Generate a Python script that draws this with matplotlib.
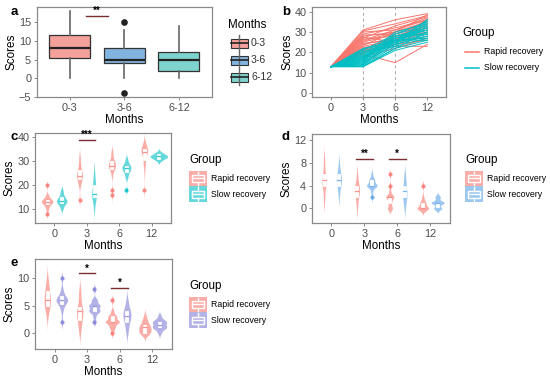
import numpy as np
import matplotlib
matplotlib.use("Agg")
import matplotlib.pyplot as plt
from matplotlib.patches import Rectangle
from matplotlib.lines import Line2D

plt.rcParams["font.family"] = ["Liberation Sans", "DejaVu Sans"]

W, H = 550, 380
TXT = "#4d4d4d"
BORDER = "#8a8a8a"
SIGC = "#7a3030"

# ---------------- panel a : box stats per months group
a_groups = ["0-3", "3-6", "6-12"]
a_lo = [0, 0, 0]
a_q1 = [5.5, 4, 2]
a_med = [8, 5, 5]
a_q3 = [11.5, 8, 7]
a_hi = [18, 13, 14]
a_fliers = [[], [15, -4], []]
a_colors = ["#f4a19c", "#82b4e0", "#7fd3ce"]

# ---------------- panel b : each row = one subject, scores at 0,3,6,12 months
b_months = ["0", "3", "6", "12"]
b_rapid = [
    [13, 31, 36, 39], [13, 30.5, 34, 38], [13, 30, 31, 37], [13, 29, 32, 36],
    [13, 28, 30, 35], [13, 27, 33, 37.5], [13, 26.5, 28, 33], [13, 26, 31, 36],
    [13, 25, 29, 34], [13, 24, 27, 30], [13, 23.5, 30, 35], [13, 23, 26, 31],
    [13, 22, 25, 29], [13, 21.5, 28, 33], [13, 21, 24, 28], [13, 20, 23, 23],
    [13, 19.5, 27, 32], [13, 19, 15, 24], [13, 18, 22, 27], [13, 28.5, 29, 34],
    [13, 27.5, 25, 30], [13, 25.5, 30, 38.5], [13, 24.5, 26, 36.5], [13, 22.5, 24, 26],
    [13, 20.5, 28, 32],
]
b_slow = [
    [13, 13, 21, 25], [13, 13.5, 22, 26], [13, 14, 23, 27], [13, 14.5, 24, 28],
    [13, 15, 25, 29], [13, 15.5, 26, 30], [13, 16, 27, 31], [13, 16.5, 28, 32],
    [13, 17, 29, 33], [13, 17.5, 30, 34], [13, 18, 24, 35], [13, 18.5, 25, 36],
    [13, 19, 26, 27], [13, 19.5, 27, 29], [13, 20, 28, 31], [13, 20.5, 23, 33],
    [13, 21, 29, 35], [13, 21.5, 26, 26], [13, 22, 25, 28], [13, 13, 22, 30],
    [13, 14, 27, 32], [13, 15, 24, 34], [13, 16, 28, 29], [13, 17, 26, 31],
    [13, 18, 25, 36],
]

# ---------------- panels c, d, e : scores per time point (0, 3, 6, 12 months)
c_rapid = [
    [8, 10, 11, 12, 12, 13, 13, 13, 13, 14, 14, 14, 15, 16, 20],
    [14, 20, 21, 22, 23, 23, 24, 24, 25, 25, 26, 27, 28, 30, 32],
    [16, 18, 24, 26, 27, 27, 28, 28, 28, 29, 29, 30, 30, 31, 33, 34],
    [18, 25, 28, 29, 30, 31, 33, 33, 34, 34, 34, 34, 35, 35, 35, 36, 36, 37, 38],
]
c_slow = [
    [10, 11, 12, 12, 13, 13, 13, 13, 14, 14, 14, 15, 15, 16, 17, 18],
    [10, 12, 14, 15, 15, 16, 16, 16, 17, 18, 19, 20, 21, 22, 24, 26],
    [18, 23, 24, 25, 26, 26, 27, 27, 27, 28, 28, 28, 29, 30, 31],
    [30, 31, 31, 31, 32, 32, 32, 32, 32, 33, 33, 33, 34],
]
d_rapid = [
    [1, 2, 3, 4, 4, 4, 5, 5, 5, 6, 6, 7, 8, 9],
    [0, 1, 2, 2, 3, 3, 3, 3, 4, 4, 4, 5, 6],
    [0, 0, 0, 1, 1, 2, 2, 2, 2, 2, 3, 4, 6],
    [0, 0, 0, 0, 0, 0, 1, 1, 1, 2, 4],
]
d_slow = [
    [2, 3, 4, 4, 4, 5, 5, 5, 5, 6, 6, 6, 7, 8],
    [2, 3, 4, 4, 4, 4, 4, 4, 5, 5, 5, 6],
    [0, 1, 2, 2, 2, 3, 3, 4, 4, 5, 6],
    [0, 0, 0, 1, 1, 1, 1, 1, 2, 2],
]
e_rapid = [
    [3, 4, 5, 5, 5, 6, 6, 6, 7, 7, 8, 8, 9, 10],
    [0, 1, 2, 2, 3, 3, 4, 4, 4, 4, 5, 6, 7, 8],
    [0, 1, 1, 2, 2, 2, 2, 2, 3, 3, 3, 4, 6],
    [0, 0, 0, 0, 1, 1, 1, 1, 2, 2, 3],
]
e_slow = [
    [2, 4, 5, 5, 6, 6, 6, 6, 6, 6, 7, 7, 8, 10],
    [2, 3, 4, 4, 4, 4, 5, 5, 5, 5, 6, 6, 8],
    [0, 1, 2, 2, 3, 3, 3, 4, 4, 4, 5, 6],
    [0, 1, 1, 1, 1, 2, 2, 2, 2, 3],
]
groups = ["Rapid recovery", "Slow recovery"]
red = "#f8766d"
teal = "#00bfc4"
blue = "#5aa2e6"
purple = "#7f7fd6"


fig = plt.figure(figsize=(W / 100, H / 100), dpi=100)


def add_ax(x0, y0, x1, y1):
    ax = fig.add_axes([x0 / W, 1 - y1 / H, (x1 - x0) / W, (y1 - y0) / H])
    for s in ax.spines.values():
        s.set_color(BORDER)
        s.set_linewidth(0.9)
    ax.tick_params(colors=BORDER, labelcolor=TXT, labelsize=7.8, length=2.5, width=0.7, pad=1.5)
    ax.set_xlabel("Months", fontsize=8.4, labelpad=1)
    ax.set_ylabel("Scores", fontsize=8.4, labelpad=1)
    return ax


def ftext(x, y, s, **kw):
    fig.text(x / W, 1 - y / H, s, va="center", **kw)


def frect(x, y, w, h, **kw):
    fig.add_artist(Rectangle((x / W, 1 - (y + h) / H), w / W, h / H, transform=fig.transFigure, **kw))


def fline(xs, ys, **kw):
    fig.add_artist(Line2D([x / W for x in xs], [1 - y / H for y in ys], transform=fig.transFigure, **kw))


def sig(ax, x0, x1, y, label):
    ax.plot([x0, x1], [y, y], color=SIGC, lw=1.0)
    ax.text((x0 + x1) / 2, y, label, ha="center", va="bottom", fontsize=7, fontweight="bold")


def bandwidth(vals):
    v = np.asarray(vals, float)
    iqr = np.subtract(*np.percentile(v, [75, 25]))
    lo = min(v.std(ddof=1), iqr / 1.34) or v.std(ddof=1)
    return 0.9 * lo * len(v) ** -0.2


def kde(vals, grid):
    v = np.asarray(vals, float)
    bw = bandwidth(v)
    d = np.exp(-0.5 * ((grid[:, None] - v[None, :]) / bw) ** 2).sum(1)
    return d / (len(v) * bw * np.sqrt(2 * np.pi))


def violins(ax, sets, maxw=0.5, boxw=0.09):
    shapes = []
    for data, col, off in sets:
        for i, vals in enumerate(data):
            bw = bandwidth(vals)
            grid = np.linspace(min(vals) - 3 * bw, max(vals) + 3 * bw, 200)
            shapes.append((i + 1 + off, grid, kde(vals, grid), col, vals))
    dmax = max(s[2].max() for s in shapes)
    for x, grid, dens, col, vals in shapes:
        hw = dens / dmax * maxw / 2
        ax.fill_betweenx(grid, x - hw, x + hw, color=col, alpha=0.6, lw=0)
    for x, grid, dens, col, vals in shapes:
        q1, med, q3 = np.percentile(vals, [25, 50, 75])
        iqr = q3 - q1
        ax.add_patch(Rectangle((x - boxw / 2, q1), boxw, max(q3 - q1, 0.05), fc="white", ec="white", lw=0.6))
        ax.plot([x - boxw / 2, x + boxw / 2], [med, med], color=col, lw=0.9, alpha=0.8)
        out = [v for v in vals if v < q1 - 1.5 * iqr or v > q3 + 1.5 * iqr]
        ax.scatter([x] * len(out), out, s=9, color=col, alpha=0.8, lw=0, zorder=3)
    ax.set_xticks(range(1, 5))
    ax.set_xticklabels(b_months)
    ax.set_xlim(0.4, 4.6)


def group_legend(x, y, cols):
    ftext(x, y, "Group", fontsize=8.4)
    for k, (g, col) in enumerate(zip(groups, cols)):
        ky = y + 10.5 + k * 15.8
        frect(x, ky, 17.5, 15.8, fc=col, alpha=0.6, ec="none")
        frect(x + 3, ky + 4.5, 11.5, 6.8, fc="none", ec="white", lw=1.0)
        fline([x + 3, x + 14.5], [ky + 7.9, ky + 7.9], color="white", lw=1.0)
        fline([x + 8.75, x + 8.75], [ky + 1, ky + 4.5], color="white", lw=1.0)
        fline([x + 8.75, x + 8.75], [ky + 11.3, ky + 14.8], color="white", lw=1.0)
        ftext(x + 22, ky + 7.9, g, fontsize=6.3)


# ---------- a
ax = add_ax(36.7, 6.7, 211.7, 97.3)
stats = [dict(whislo=a_lo[i], q1=a_q1[i], med=a_med[i], q3=a_q3[i], whishi=a_hi[i], fliers=a_fliers[i])
         for i in range(3)]
bp = ax.bxp(stats, positions=[1, 2, 3], widths=0.75, patch_artist=True, showcaps=False,
            boxprops=dict(edgecolor="#333333", linewidth=0.9),
            medianprops=dict(color="#222222", linewidth=1.6),
            whiskerprops=dict(color="#666666", linewidth=1.2),
            flierprops=dict(marker="o", markerfacecolor="#222222", markeredgecolor="none", markersize=4.8))
for p, c in zip(bp["boxes"], a_colors):
    p.set_facecolor(c)
ax.set_xlim(0.4, 3.6)
ax.set_ylim(-5.1, 19.2)
ax.set_yticks([-5, 0, 5, 10, 15])
ax.set_xticklabels(a_groups)
sig(ax, 1.3, 1.7, 16.8, "**")

ftext(228, 25, "Months", fontsize=8.4)
for k, g in enumerate(a_groups):
    cy = 43 + k * 17
    fline([239, 239], [cy - 8, cy + 8], color="#666666", lw=1.0)
    frect(230.5, cy - 4.5, 17, 9, fc=a_colors[k], ec="#333333", lw=0.8)
    fline([230.5, 247.5], [cy, cy], color="#222222", lw=1.2)
    ftext(251, cy, g, fontsize=7.6, color="#333333")

# ---------- b
ax = add_ax(312.3, 6.7, 446, 97.3)
for row in b_rapid:
    ax.plot(range(1, 5), row, color=red, lw=0.7)
for row in b_slow:
    ax.plot(range(1, 5), row, color=teal, lw=0.7)
for x in (2, 3):
    ax.axvline(x, color="#aaaaaa", lw=0.7, ls=(0, (3, 3)), zorder=0)
ax.set_xlim(0.42, 4.58)
ax.set_ylim(-2, 42.4)
ax.set_yticks([0, 10, 20, 30, 40])
ax.set_xticks(range(1, 5))
ax.set_xticklabels(b_months)
ftext(462.7, 33, "Group", fontsize=8.4)
for k, (g, c) in enumerate(zip(groups, [red, teal])):
    ky = 52 + k * 16
    fline([465, 478.5], [ky, ky], color=c, lw=1.1)
    ftext(484, ky, g, fontsize=6.3)

# ---------- c
ax = add_ax(35, 133, 171, 223)
violins(ax, [(c_rapid, red, -0.225), (c_slow, teal, 0.225)], maxw=0.55)
ax.set_ylim(4.2, 41.8)
ax.set_yticks([10, 20, 30, 40])
sig(ax, 1.75, 2.25, 38.9, "***")
group_legend(189.3, 160, [red, teal])

# ---------- d
ax = add_ax(311.7, 134, 450, 223.3)
violins(ax, [(d_rapid, red, -0.225), (d_slow, blue, 0.225)], maxw=0.4)
ax.set_ylim(-2.6, 13)
ax.set_yticks([0, 4, 8, 12])
sig(ax, 1.75, 2.25, 8.6, "**")
sig(ax, 2.75, 3.25, 8.6, "*")
group_legend(465, 160, [red, blue])

# ---------- e
ax = add_ax(35, 259.3, 171.7, 349.3)
violins(ax, [(e_rapid, red, -0.225), (e_slow, purple, 0.225)], maxw=0.44)
ax.set_ylim(-3.05, 13.5)
ax.set_yticks([0, 5, 10])
sig(ax, 1.75, 2.25, 10.9, "*")
sig(ax, 2.75, 3.25, 8.2, "*")
group_legend(189.3, 286, [red, purple])

for lab, x, y in [("a", 14, 12), ("b", 286, 12), ("c", 14, 137), ("d", 285, 137), ("e", 14, 263)]:
    ftext(x, y, lab, fontsize=9.5, fontweight="bold", ha="center")

fig.savefig("out.png", dpi=100)
